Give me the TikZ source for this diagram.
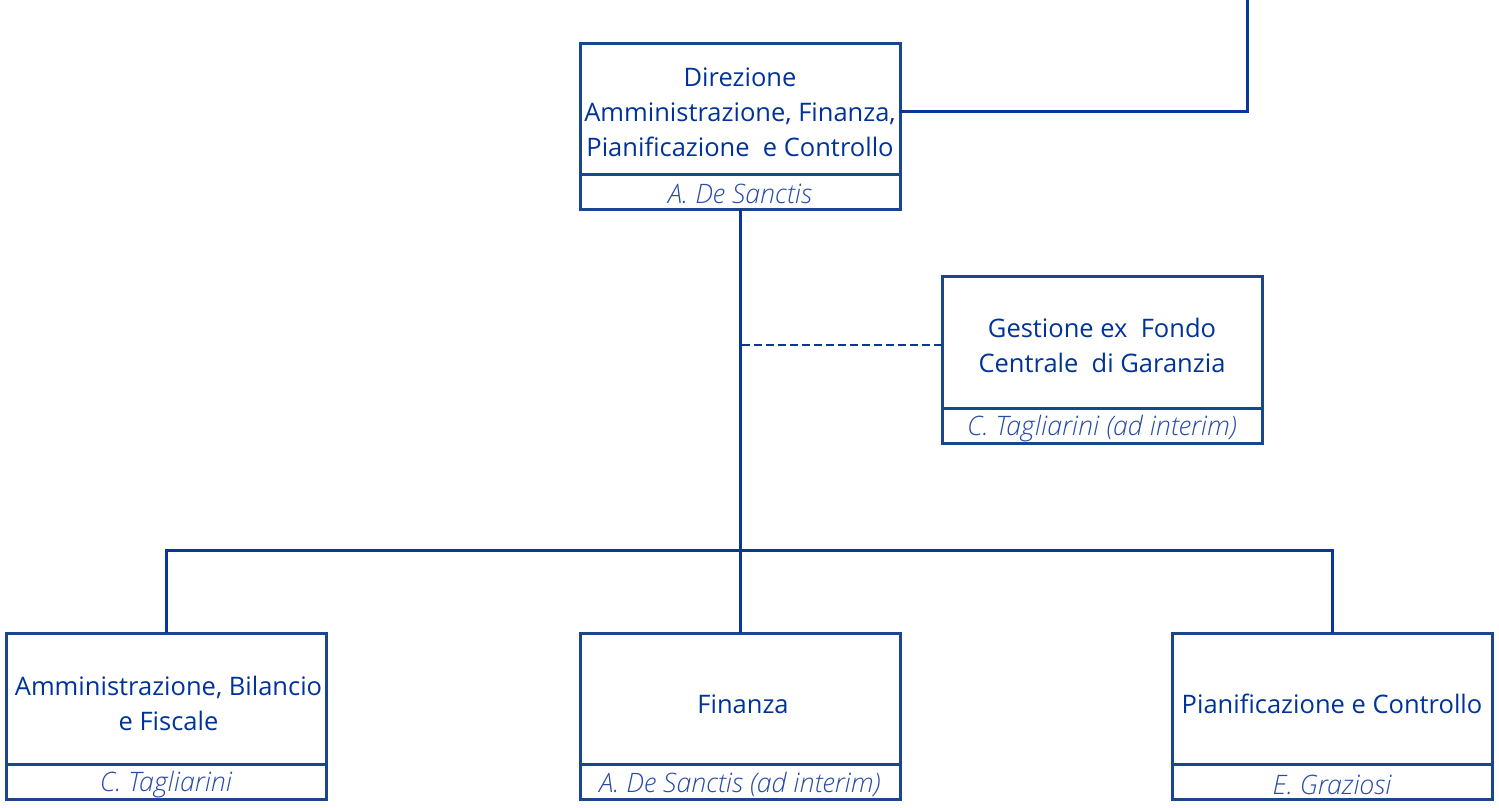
\documentclass[tikz,border=0pt]{standalone}
\usepackage{fontspec}
\setmainfont{Open Sans}
\newfontfamily\namefont{Open Sans}[UprightFont=* Light, ItalicFont=* Light Italic]
\definecolor{bordc}{RGB}{25,70,140}
\definecolor{linec}{RGB}{10,55,150}
\definecolor{txtc}{RGB}{0,51,153}
\definecolor{namec}{RGB}{40,75,170}
\newcommand\unittext[2][6pt]{\raisebox{-#1}[\height][\depth]{\begin{tabular}{@{}c@{}}#2\end{tabular}}}
\newcommand\nametext[2][3pt]{\raisebox{-#1}[\height][\depth]{#2}}
\begin{document}
\begin{tikzpicture}[x=1pt,y=-1pt,
  unitbox/.style={draw=bordc, line width=3pt, outer sep=0pt, minimum width=320pt, inner sep=0pt, text=txtc, font=\fontsize{25.5}{35}\selectfont},
  namebox/.style={draw=bordc, line width=3pt, outer sep=0pt, minimum width=320pt, minimum height=35pt, inner sep=0pt, text=namec, font=\fontsize{26.8}{30}\selectfont\namefont\itshape},
  link/.style={draw=linec, line width=3pt}]
\useasboundingbox (0,0) rectangle (1499,807);

\node[unitbox, minimum height=131pt] (dir) at (740,108.5) {\unittext[6pt]{Direzione\\Amministrazione, Finanza,\\Pianificazione\ \ e Controllo}};
\node[namebox, anchor=north] (dirn) at (dir.south) {\nametext[2pt]{A. De Sanctis}};

\node[unitbox, minimum height=132pt] (gest) at (1102,342) {\unittext[6pt]{Gestione ex\ \ Fondo\\Centrale\ \ di Garanzia}};
\node[namebox, anchor=north] (gestn) at (gest.south) {\nametext{C. Tagliarini (ad interim)}};

\node[unitbox, minimum height=131pt] (adm) at (166,698.5) {\hspace*{5pt}\unittext[7pt]{Amministrazione, Bilancio\\e Fiscale}};
\node[namebox, anchor=north] (admn) at (adm.south) {\nametext{C. Tagliarini}};

\node[unitbox, minimum height=131pt] (fin) at (740,698.5) {\hspace*{6pt}\unittext[8pt]{Finanza}};
\node[namebox, anchor=north] (finn) at (fin.south) {\nametext{A. De Sanctis (ad interim)}};

\node[unitbox, minimum height=131pt] (pc) at (1332,698.5) {\unittext[8pt]{Pianificazione e Controllo}};
\node[namebox, anchor=north] (pcn) at (pc.south) {\nametext{E. Graziosi}};

\coordinate (topend) at (1247,0);
\coordinate (bus) at (740,550);

\draw[link] ([yshift=-2.5pt]dir.east) -| (topend);
\draw[link] (dirn.south) -- (bus);
\draw[link] (adm.north) |- (bus);
\draw[link] (fin.north) -- (bus);
\draw[link] (pc.north) |- (bus);
\draw[link, line width=2.5pt, dash pattern=on 8pt off 4pt] ([yshift=-3pt]gest.west) -- ([yshift=-3pt]gest.west -| dirn.south);
\end{tikzpicture}
\end{document}
